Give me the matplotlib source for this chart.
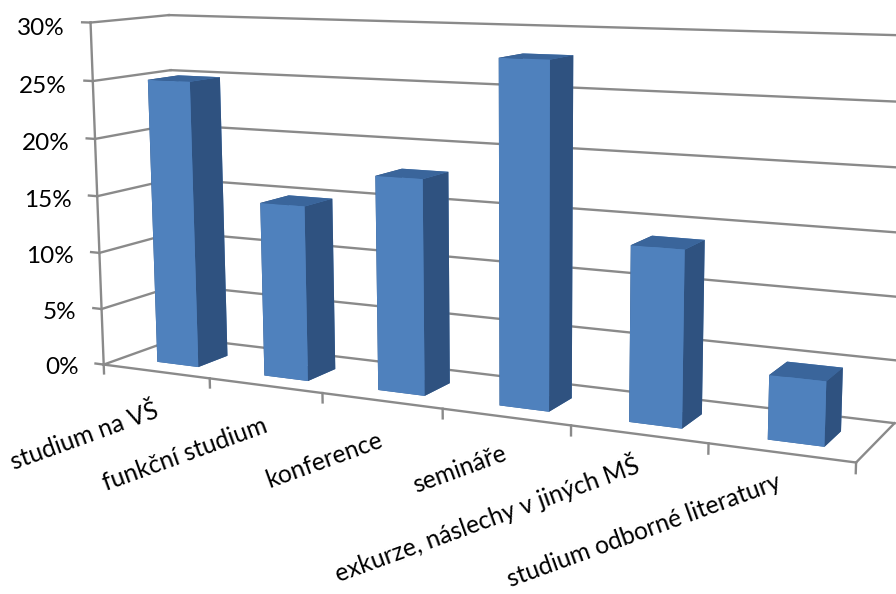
import matplotlib
matplotlib.use("Agg")
import matplotlib.pyplot as plt
import numpy as np
from mpl_toolkits.mplot3d import proj3d

plt.rcParams['font.family'] = ['Lato', 'DejaVu Sans']

# shares per category (%)
categories = ["studium na VŠ", "funkční studium", "konference", "semináře",
              "exkurze, náslechy v jiných MŠ", "studium odborné literatury"]
values = [25, 15, 18, 28, 14, 5]
z_ticks = [0, 5, 10, 15, 20, 25, 30]
z_labels = ["0%", "5%", "10%", "15%", "20%", "25%", "30%"]

grid_col = "#8a8a8a"
front_col = "#4f81bd"
top_col = "#3a659b"
side_col = "#2f5280"
W, H = 896, 594

fig = plt.figure(figsize=(W / 100, H / 100), dpi=100)
# camera and box set by hand so the floor runs down to the right
side = 1000
cx, cy = 459.8, 367.2
ax = fig.add_axes([(cx - side / 2) / W, (cy - side / 2) / H, side / W, side / H], projection="3d")
ax.computed_zorder = False
ax.set_proj_type("persp", focal_length=0.344)
ax.view_init(elev=9.522, azim=-63.567, roll=0.264)
ax.set_box_aspect((2.909, 0.492, 1.3), zoom=0.887)
ax.set_axis_off()

n = len(values)
ax.set_xlim(0, n)
ax.set_ylim(0, 1)
ax.set_zlim(0, 30)

line = dict(color=grid_col, lw=1.7, zorder=1)

# gridlines on the back and left walls
for z in z_ticks:
    ax.plot([0, n], [1, 1], [z, z], **line)
    ax.plot([0, 0], [0, 1], [z, z], **line)
    ax.plot([-0.08, 0], [0, 0], [z, z], **line)

# value axis and floor outline
ax.plot([0, 0], [0, 0], [0, 30], **line)
ax.plot([0, n], [0, 0], [0, 0], **line)
ax.plot([n, n], [0, 1], [0, 0], **line)
for i in range(n + 1):
    ax.plot([i, i], [0, 0], [0, -0.8], **line)

bar_x = 0.33
bar_w = 0.39
bar_y = 0.25
bar_d = 0.40
faces = [top_col, top_col, front_col, front_col, side_col, side_col]
for i, v in enumerate(values):
    ax.bar3d(i + bar_x, bar_y, 0, bar_w, bar_d, v, color=faces, shade=False, zorder=5 + i)

# Text3D drops rotation, so labels go through the projection by hand
proj = ax.get_proj()
for z, lab in zip(z_ticks, z_labels):
    px, py, _ = proj3d.proj_transform(-0.25, 0, z - 0.55, proj)
    ax.text2D(px, py, lab, transform=ax.transData, ha="right", va="center", fontsize=17.5, color="black")

# long labels sit a little higher so they stay on the canvas
label_z = [-3.4, -3.4, -3.2, -2.9, -2.3, -2.2]
for i, lab in enumerate(categories):
    px, py, _ = proj3d.proj_transform(i + 0.5, 0, label_z[i], proj)
    ax.text2D(px, py, lab, transform=ax.transData, ha="right", va="center", rotation=20,
              rotation_mode="anchor", fontsize=17.7, color="black")

fig.savefig("out.png", dpi=100)
